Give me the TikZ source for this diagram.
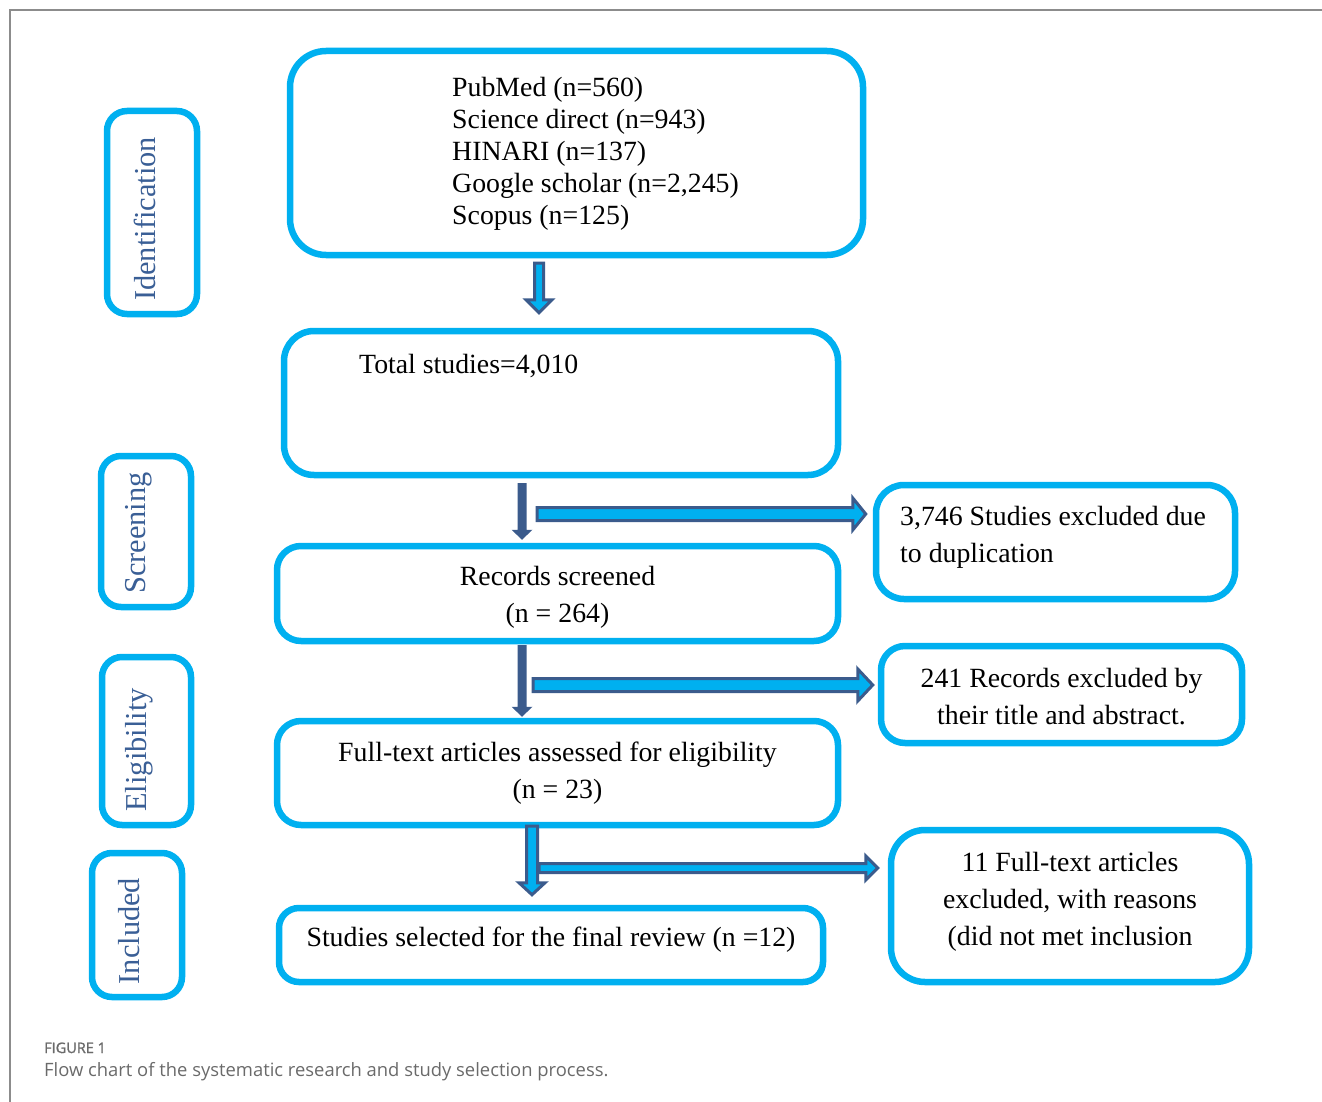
\documentclass[tikz,border=0pt]{standalone}
\usepackage{fontspec}
\setmainfont{Liberation Serif}
\newfontfamily\capfont{Open Sans}
\newfontfamily\capfontb[FakeBold=1.5]{Open Sans}
\usetikzlibrary{calc}
\definecolor{boxcyan}{HTML}{00B0F0}
\definecolor{arrowblue}{HTML}{3B5B8C}
\definecolor{sidetext}{HTML}{3A5F96}
\definecolor{framegray}{HTML}{8C8C8C}
\definecolor{capgray}{HTML}{6A6A6A}
\newcommand\HBlock[5]{%
  \draw[blockarrow] let \p1=(#1), \p2=(#2) in
    (\x1,\y1+#3) -- (\x2-#5,\y1+#3) -- (\x2-#5,\y1+#4) -- (\x2,\y1) --
    (\x2-#5,\y1-#4) -- (\x2-#5,\y1-#3) -- (\x1,\y1-#3) -- cycle;}
\newcommand\VBlock[6]{%
  \draw[#1] let \p1=(#2), \p2=(#3) in
    (\x1-#4,\y1) -- (\x1-#4,\y2+#6) -- (\x1-#5,\y2+#6) -- (\x1,\y2) --
    (\x1+#5,\y2+#6) -- (\x1+#4,\y2+#6) -- (\x1+#4,\y1) -- cycle;}
\begin{document}
\begin{tikzpicture}[x=1pt,y=-1pt,
  box/.style={draw=boxcyan, line width=6.5pt, fill=white, inner sep=0pt},
  maintext/.style={font=\fontsize{27.8}{37}\selectfont, text=black, inner sep=0pt},
  sidelabel/.style={font=\fontsize{30.4}{32}\selectfont, text=sidetext, rotate=90, inner sep=0pt},
  blockarrow/.style={draw=arrowblue, fill=boxcyan, line width=3pt, line join=miter},
  solidarrow/.style={fill=arrowblue, draw=none}]
\useasboundingbox (0,0) rectangle (1322,1102);
% frame
\draw[framegray, line width=1.3pt] (10,1102) -- (10,10) -- (1322,10);
% main boxes
\node[box, rounded corners=36pt, minimum width=573pt, minimum height=204pt] (src) at (576.5,153) {};
\node[box, rounded corners=30pt, minimum width=554pt, minimum height=144pt] (tot) at (561,403) {};
\node[box, rounded corners=24pt, minimum width=561pt, minimum height=95pt] (rec) at (557.5,593.5) {};
\node[box, rounded corners=24pt, minimum width=561pt, minimum height=104pt, maintext, align=center] (full) at (557.5,773) {Full-text articles assessed for eligibility\\(n = 23)};
\node[box, rounded corners=20pt, minimum width=544pt, minimum height=74pt] (sel) at (551,945) {};
\node[box, rounded corners=28pt, minimum width=359pt, minimum height=114pt] (ex1) at (1055.5,542) {};
\node[box, rounded corners=24pt, minimum width=361pt, minimum height=97pt] (ex2) at (1061.5,694.5) {};
\node[box, rounded corners=34pt, minimum width=358pt, minimum height=152pt] (ex3) at (1070,906) {};
% side boxes
\node[box, rounded corners=20pt, minimum width=90pt, minimum height=203pt] (idb) at (152,212.5) {};
\node[box, rounded corners=20pt, minimum width=90pt, minimum height=151pt] (scb) at (146,531.5) {};
\node[box, rounded corners=20pt, minimum width=89pt, minimum height=168pt] (elb) at (146.5,741) {};
\node[box, rounded corners=20pt, minimum width=90pt, minimum height=144pt] (inb) at (137,925) {};
\node[sidelabel] (idt) at (145,219) {Identification};
\node[sidelabel] (sct) at (139,533) {Screening};
\node[sidelabel] (elt) at (139,750) {Eligibility};
\node[sidelabel] (int) at (129,931) {Included};
% texts
\node[maintext, anchor=north west, align=left, font=\fontsize{27.8}{32}\selectfont] (srct) at (452,77)
  {PubMed (n=560)\\Science direct (n=943)\\HINARI (n=137)\\Google scholar (n=2,245)\\Scopus (n=125)};
\node[maintext, anchor=west] (tott) at (359,366) {Total studies=4,010};
\node[maintext, align=center] (rect) at (557.5,597.5) {Records screened\\(n = 264)};
\node[maintext, align=center] (ex2t) at (1061.5,697) {241 Records excluded by\\their title and abstract.};
\node[maintext, anchor=west, align=left] (ex1t) at (900,537) {3,746 Studies excluded due\\to duplication};
\node[maintext, align=center] (ex3t) at (1070,902) {11 Full-text articles\\excluded, with reasons\\(did not met inclusion};
\node[maintext] (selt) at (551,940) {Studies selected for the final review (n =12)};
% arrows
\coordinate (a1s) at (539,263);
\coordinate (a1e) at (a1s |- tot.north);
\VBlock{blockarrow}{a1s}{$(a1e)+(0,-15)$}{4.5pt}{13pt}{13pt}
\coordinate (a2s) at (522,483);
\coordinate (a2e) at (a2s |- rec.north);
\VBlock{solidarrow}{a2s}{$(a2e)+(0,-3)$}{4.5pt}{10.5pt}{10pt}
\coordinate (h2s) at (537,514);
\coordinate (h2e) at (ex1.west |- h2s);
\HBlock{h2s}{$(h2e)+(-7,0)$}{6.5pt}{16pt}{13pt}
\coordinate (a3s) at (522,645);
\coordinate (a3e) at (a3s |- full.north);
\VBlock{solidarrow}{a3s}{$(a3e)+(0,-1)$}{4.5pt}{10.5pt}{10pt}
\coordinate (h3s) at (533,685);
\coordinate (h3e) at (ex2.west |- h3s);
\HBlock{h3s}{$(h3e)+(-5,0)$}{6.5pt}{16pt}{15pt}
\coordinate (a4s) at (532,826);
\coordinate (a4e) at (a4s |- sel.north);
\VBlock{blockarrow}{a4s}{$(a4e)+(0,-10)$}{5.5pt}{13pt}{12pt}
\coordinate (h4s) at (539,868);
\coordinate (h4e) at (ex3.west |- h4s);
\HBlock{h4s}{$(h4e)+(-10,0)$}{4.5pt}{12pt}{12pt}
% caption
\node[anchor=base west, inner sep=0pt, text=capgray, font=\capfontb\fontsize{14.5}{16}\selectfont] (figlab) at (44,1053) {FIGURE 1};
\node[anchor=base west, inner sep=0pt, text=capgray, font=\capfont\fontsize{18.4}{20}\selectfont] (figcap) at (44,1076) {Flow chart of the systematic research and study selection process.};
\end{tikzpicture}
\end{document}
